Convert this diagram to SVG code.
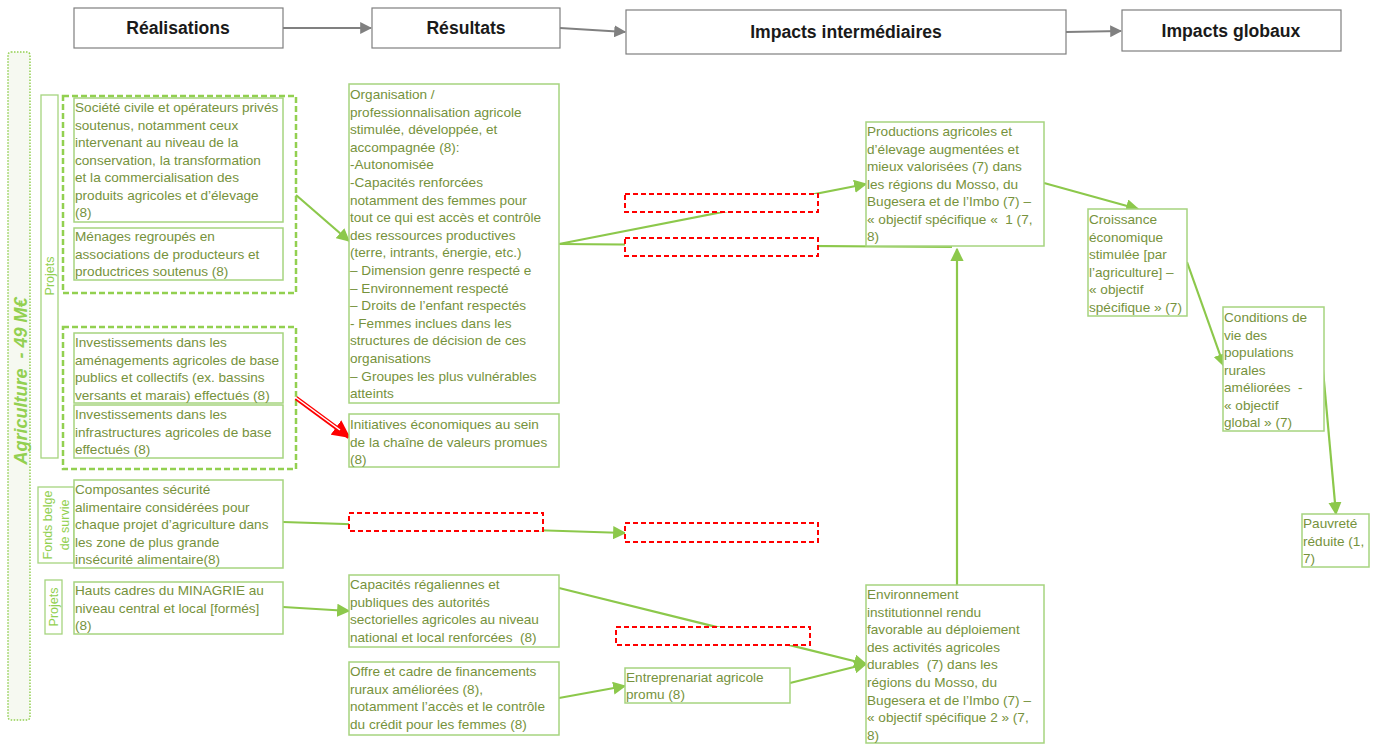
<svg xmlns="http://www.w3.org/2000/svg" width="1377" height="744" viewBox="0 0 1377 744">
  <style>
    .hdr { fill: #ffffff; stroke: #7f7f7f; stroke-width: 1.2; }
    .hdr-t { font-family: "Liberation Sans", Arial, sans-serif; font-weight: bold; font-size: 17.6px; fill: #1a1a1a; text-anchor: middle; }
    .box { fill: #ffffff; stroke: #a6d47f; stroke-width: 1.5; }
    .grp { fill: none; stroke: #92d050; stroke-width: 2.5; stroke-dasharray: 6 3; }
    .tbd { fill: #ffffff; stroke: #ff0000; stroke-width: 2; stroke-dasharray: 5 3; }
    .t { font-family: "Liberation Sans", Arial, sans-serif; font-size: 13.6px; fill: #76923c; white-space: pre; }
    .side { fill: #ffffff; stroke: #a6d47f; stroke-width: 1.3; }
    .side-t { font-family: "Liberation Sans", Arial, sans-serif; font-size: 12.5px; fill: #92d050; text-anchor: middle; }
    .link { fill: none; stroke: #8cc84b; stroke-width: 2.2; }
    .hlink { fill: none; stroke: #808080; stroke-width: 2; }
  </style>
  <defs>
    <marker id="ah" viewBox="0 0 10 10" refX="9" refY="5" markerWidth="6" markerHeight="6" markerUnits="strokeWidth" orient="auto">
      <path d="M0,0 L10,5 L0,10 z" fill="#8cc84b"/>
    </marker>
    <marker id="ahg" viewBox="0 0 10 10" refX="9" refY="5" markerWidth="6" markerHeight="6" markerUnits="strokeWidth" orient="auto">
      <path d="M0,0 L10,5 L0,10 z" fill="#808080"/>
    </marker>
    <marker id="ahr" viewBox="0 0 10 10" refX="9" refY="5" markerWidth="4" markerHeight="4" markerUnits="strokeWidth" orient="auto">
      <path d="M0,0 L10,5 L0,10 z" fill="#ff0000"/>
    </marker>
  </defs>

  <!-- column headers -->
  <g id="hdr-realisations">
    <rect class="hdr" x="74" y="8" width="209" height="40"/>
    <text class="hdr-t" x="178" y="34">Réalisations</text>
  </g>
  <g id="hdr-resultats">
    <rect class="hdr" x="372" y="8" width="188" height="40"/>
    <text class="hdr-t" x="466" y="34">Résultats</text>
  </g>
  <g id="hdr-impacts-inter">
    <rect class="hdr" x="626" y="10" width="440" height="44"/>
    <text class="hdr-t" x="846" y="38">Impacts intermédiaires</text>
  </g>
  <g id="hdr-impacts-globaux">
    <rect class="hdr" x="1122" y="10" width="219" height="41"/>
    <text class="hdr-t" x="1231" y="37">Impacts globaux</text>
  </g>

  <!-- sector band -->
  <g id="sector">
    <rect x="8" y="52" width="22" height="668" rx="3" fill="#f6f9f1" stroke="#92d050" stroke-width="1.5" stroke-dasharray="1.5 1.5"/>
    <text transform="translate(27,381) rotate(-90)" font-family="Liberation Sans, Arial, sans-serif" font-size="18" font-weight="bold" font-style="italic" fill="#92d050" text-anchor="middle" style="white-space: pre">Agriculture  - 49 M€</text>
  </g>

  <!-- side labels -->
  <g id="lbl-projets-1">
    <rect class="side" x="41" y="95" width="17" height="363"/>
    <text class="side-t" transform="translate(54,276) rotate(-90)">Projets</text>
  </g>
  <g id="lbl-fonds-belge">
    <rect class="side" x="38" y="487" width="36" height="76"/>
    <text class="side-t" transform="translate(52,525) rotate(-90)">Fonds belge</text>
    <text class="side-t" transform="translate(69,525) rotate(-90)">de survie</text>
  </g>
  <g id="lbl-projets-2">
    <rect class="side" x="45" y="580" width="17" height="54"/>
    <text class="side-t" transform="translate(58,607) rotate(-90)">Projets</text>
  </g>

  <!-- dashed groupings -->
  <g id="grp-appui">
    <rect class="grp" x="63" y="96" width="233" height="197"/>
  </g>
  <g id="grp-invest">
    <rect class="grp" x="63" y="327" width="233" height="142"/>
  </g>

  <!-- connectors -->
  <g id="connectors">
    <line class="hlink" x1="283" y1="28" x2="371" y2="28" marker-end="url(#ahg)"/>
    <line class="hlink" x1="560" y1="28" x2="625" y2="32" marker-end="url(#ahg)"/>
    <line class="hlink" x1="1066" y1="32" x2="1121" y2="31" marker-end="url(#ahg)"/>

    <line class="link" x1="296" y1="195" x2="349" y2="241" marker-end="url(#ah)"/>
    <line class="link" x1="559" y1="244" x2="866" y2="184" marker-end="url(#ah)"/>
    <line class="link" x1="559" y1="244" x2="952" y2="247"/>
    <line class="link" x1="957" y1="585" x2="957" y2="249" marker-end="url(#ah)"/>
    <line class="link" x1="1044" y1="183" x2="1138" y2="209" marker-end="url(#ah)"/>
    <line class="link" x1="1187" y1="262" x2="1224" y2="366" marker-end="url(#ah)"/>
    <line class="link" x1="1323" y1="370" x2="1336" y2="514" marker-end="url(#ah)"/>
    <line class="link" x1="283" y1="522" x2="625" y2="533" marker-end="url(#ah)"/>
    <line class="link" x1="283" y1="607" x2="349" y2="611" marker-end="url(#ah)"/>
    <line class="link" x1="559" y1="588" x2="866" y2="664" marker-end="url(#ah)"/>
    <line class="link" x1="559" y1="698" x2="625" y2="686" marker-end="url(#ah)"/>
    <line class="link" x1="790" y1="683" x2="866" y2="664" marker-end="url(#ah)"/>

    <!-- double red arrow -->
    <line x1="296" y1="398" x2="349" y2="437" stroke="#ff0000" stroke-width="4.5" marker-end="url(#ahr)"/>
    <line x1="295" y1="397" x2="340" y2="430" stroke="#ffffff" stroke-width="1.5"/>
  </g>

  <!-- placeholders to be completed -->
  <g id="tbd-1"><rect class="tbd" x="625" y="194" width="193" height="18"/></g>
  <g id="tbd-2"><rect class="tbd" x="625" y="238" width="193" height="18"/></g>
  <g id="tbd-3"><rect class="tbd" x="349" y="513" width="194" height="18"/></g>
  <g id="tbd-4"><rect class="tbd" x="625" y="523" width="193" height="19"/></g>
  <g id="tbd-5"><rect class="tbd" x="616" y="627" width="194" height="18"/></g>

  <!-- réalisations -->
  <g id="real-societe-civile">
    <rect class="box" x="74" y="98" width="209" height="124"/>
    <text class="t" x="75" y="112">Société civile et opérateurs privés</text>
    <text class="t" x="75" y="129.5">soutenus, notamment ceux</text>
    <text class="t" x="75" y="147">intervenant au niveau de la</text>
    <text class="t" x="75" y="164.5">conservation, la transformation</text>
    <text class="t" x="75" y="182">et la commercialisation des</text>
    <text class="t" x="75" y="199.5">produits agricoles et d’élevage</text>
    <text class="t" x="75" y="217">(8)</text>
  </g>
  <g id="real-menages">
    <rect class="box" x="74" y="228" width="209" height="52"/>
    <text class="t" x="75" y="241">Ménages regroupés en</text>
    <text class="t" x="75" y="258.5">associations de producteurs et</text>
    <text class="t" x="75" y="276">productrices soutenus (8)</text>
  </g>
  <g id="real-amenagements">
    <rect class="box" x="74" y="333" width="209" height="70"/>
    <text class="t" x="75" y="347">Investissements dans les</text>
    <text class="t" x="75" y="364.5">aménagements agricoles de base</text>
    <text class="t" x="75" y="382">publics et collectifs (ex. bassins</text>
    <text class="t" x="75" y="399.5">versants et marais) effectués (8)</text>
  </g>
  <g id="real-infrastructures">
    <rect class="box" x="74" y="405" width="209" height="53"/>
    <text class="t" x="75" y="419">Investissements dans les</text>
    <text class="t" x="75" y="436.5">infrastructures agricoles de base</text>
    <text class="t" x="75" y="454">effectués (8)</text>
  </g>
  <g id="real-securite-alimentaire">
    <rect class="box" x="74" y="480" width="209" height="88"/>
    <text class="t" x="75" y="494">Composantes sécurité</text>
    <text class="t" x="75" y="511.5">alimentaire considérées pour</text>
    <text class="t" x="75" y="529">chaque projet d’agriculture dans</text>
    <text class="t" x="75" y="546.5">les zone de plus grande</text>
    <text class="t" x="75" y="564">insécurité alimentaire(8)</text>
  </g>
  <g id="real-minagrie">
    <rect class="box" x="74" y="582" width="209" height="52"/>
    <text class="t" x="75" y="595">Hauts cadres du MINAGRIE au</text>
    <text class="t" x="75" y="612.5">niveau central et local [formés]</text>
    <text class="t" x="75" y="630">(8)</text>
  </g>

  <!-- résultats -->
  <g id="res-organisation">
    <rect class="box" x="349" y="84" width="210" height="319"/>
    <text class="t" x="350" y="99">Organisation /</text>
    <text class="t" x="350" y="116.6">professionnalisation agricole</text>
    <text class="t" x="350" y="134.2">stimulée, développée, et</text>
    <text class="t" x="350" y="151.8">accompagnée (8):</text>
    <text class="t" x="350" y="169.4">-Autonomisée</text>
    <text class="t" x="350" y="187">-Capacités renforcées</text>
    <text class="t" x="350" y="204.6">notamment des femmes pour</text>
    <text class="t" x="350" y="222.2">tout ce qui est accès et contrôle</text>
    <text class="t" x="350" y="239.8">des ressources productives</text>
    <text class="t" x="350" y="257.4">(terre, intrants, énergie, etc.)</text>
    <text class="t" x="350" y="275">– Dimension genre respecté e</text>
    <text class="t" x="350" y="292.6">– Environnement respecté</text>
    <text class="t" x="350" y="310.2">– Droits de l’enfant respectés</text>
    <text class="t" x="350" y="327.8">- Femmes inclues dans les</text>
    <text class="t" x="350" y="345.4">structures de décision de ces</text>
    <text class="t" x="350" y="363">organisations</text>
    <text class="t" x="350" y="380.6">– Groupes les plus vulnérables</text>
    <text class="t" x="350" y="398.2">atteints</text>
  </g>
  <g id="res-initiatives">
    <rect class="box" x="349" y="414" width="210" height="53"/>
    <text class="t" x="350" y="429">Initiatives économiques au sein</text>
    <text class="t" x="350" y="446.5">de la chaîne de valeurs promues</text>
    <text class="t" x="350" y="464">(8)</text>
  </g>
  <g id="res-capacites">
    <rect class="box" x="349" y="575" width="210" height="72"/>
    <text class="t" x="350" y="589">Capacités régaliennes et</text>
    <text class="t" x="350" y="606.5">publiques des autorités</text>
    <text class="t" x="350" y="624">sectorielles agricoles au niveau</text>
    <text class="t" x="350" y="641.5">national et local renforcées  (8)</text>
  </g>
  <g id="res-financements">
    <rect class="box" x="349" y="662" width="210" height="73"/>
    <text class="t" x="350" y="676">Offre et cadre de financements</text>
    <text class="t" x="350" y="693.5">ruraux améliorées (8),</text>
    <text class="t" x="350" y="711">notamment l’accès et le contrôle</text>
    <text class="t" x="350" y="728.5">du crédit pour les femmes (8)</text>
  </g>
  <g id="res-entreprenariat">
    <rect class="box" x="625" y="668" width="165" height="35"/>
    <text class="t" x="626" y="682">Entreprenariat agricole</text>
    <text class="t" x="626" y="699">promu (8)</text>
  </g>

  <!-- impacts intermédiaires -->
  <g id="imp-productions">
    <rect class="box" x="866" y="122" width="178" height="124"/>
    <text class="t" x="867" y="136">Productions agricoles et</text>
    <text class="t" x="867" y="153.5">d’élevage augmentées et</text>
    <text class="t" x="867" y="171">mieux valorisées (7) dans</text>
    <text class="t" x="867" y="188.5">les régions du Mosso, du</text>
    <text class="t" x="867" y="206">Bugesera et de l’Imbo (7) –</text>
    <text class="t" x="867" y="223.5">« objectif spécifique «  1 (7,</text>
    <text class="t" x="867" y="241">8)</text>
  </g>
  <g id="imp-environnement">
    <rect class="box" x="866" y="585" width="178" height="158"/>
    <text class="t" x="867" y="599">Environnement</text>
    <text class="t" x="867" y="616.6">institutionnel rendu</text>
    <text class="t" x="867" y="634.2">favorable au déploiement</text>
    <text class="t" x="867" y="651.8">des activités agricoles</text>
    <text class="t" x="867" y="669.4">durables  (7) dans les</text>
    <text class="t" x="867" y="687">régions du Mosso, du</text>
    <text class="t" x="867" y="704.6">Bugesera et de l’Imbo (7) –</text>
    <text class="t" x="867" y="722.2">« objectif spécifique 2 » (7,</text>
    <text class="t" x="867" y="739.8">8)</text>
  </g>

  <!-- impacts globaux -->
  <g id="glob-croissance">
    <rect class="box" x="1088" y="209" width="99" height="107"/>
    <text class="t" x="1089" y="224">Croissance</text>
    <text class="t" x="1089" y="241.5">économique</text>
    <text class="t" x="1089" y="259">stimulée [par</text>
    <text class="t" x="1089" y="276.5">l’agriculture] –</text>
    <text class="t" x="1089" y="294">« objectif</text>
    <text class="t" x="1089" y="311.5">spécifique » (7)</text>
  </g>
  <g id="glob-conditions">
    <rect class="box" x="1223" y="307" width="101" height="124"/>
    <text class="t" x="1224" y="322">Conditions de</text>
    <text class="t" x="1224" y="339.5">vie des</text>
    <text class="t" x="1224" y="357">populations</text>
    <text class="t" x="1224" y="374.5">rurales</text>
    <text class="t" x="1224" y="392">améliorées  -</text>
    <text class="t" x="1224" y="409.5">« objectif</text>
    <text class="t" x="1224" y="427">global » (7)</text>
  </g>
  <g id="glob-pauvrete">
    <rect class="box" x="1302" y="514" width="67" height="53"/>
    <text class="t" x="1303" y="528">Pauvreté</text>
    <text class="t" x="1303" y="545.5">réduite (1,</text>
    <text class="t" x="1303" y="563">7)</text>
  </g>
</svg>
